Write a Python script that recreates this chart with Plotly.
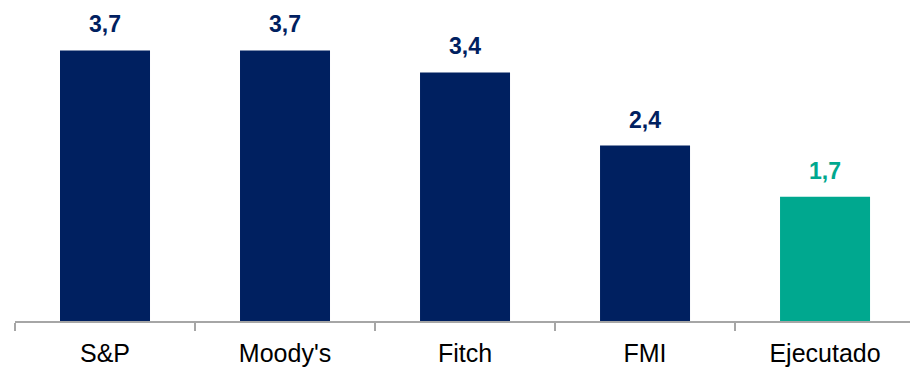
import plotly.graph_objects as go

categories = ["S&P", "Moody's", "Fitch", "FMI", "Ejecutado"]
values = [3.7, 3.7, 3.4, 2.4, 1.7]
bar_colors = ["#002060", "#002060", "#002060", "#002060", "#00A88F"]

FONT = "Arial, Liberation Sans, sans-serif"

fig = go.Figure()
fig.add_trace(go.Bar(
    x=categories,
    y=values,
    marker=dict(color=bar_colors, line=dict(width=0)),
    width=0.5,
    hoverinfo="skip",
))

# value labels above each bar, using a decimal comma
for cat, val, col in zip(categories, values, bar_colors):
    fig.add_annotation(
        x=cat, y=val, text=f"<b>{val:.1f}</b>".replace(".", ","),
        showarrow=False, yanchor="bottom", yshift=11,
        font=dict(family=FONT, size=23, color=col),
    )

fig.update_layout(
    width=910, height=367,
    margin=dict(l=15, r=0, t=0, b=44),
    paper_bgcolor="white", plot_bgcolor="white",
    showlegend=False,
    bargap=0.5,
    xaxis=dict(
        type="category",
        range=[-0.5, 4.472],
        showline=True, linecolor="#A6A6A6", linewidth=1.5,
        ticks="outside", tickson="boundaries", ticklen=8,
        tickcolor="#A6A6A6", tickwidth=1.5,
        ticklabelstandoff=9,
        showgrid=False, zeroline=False,
        tickfont=dict(family=FONT, size=25, color="#000000"),
    ),
    yaxis=dict(
        range=[0, 4.39], visible=False, showgrid=False, zeroline=False,
    ),
)

fig.write_html("out.html")
